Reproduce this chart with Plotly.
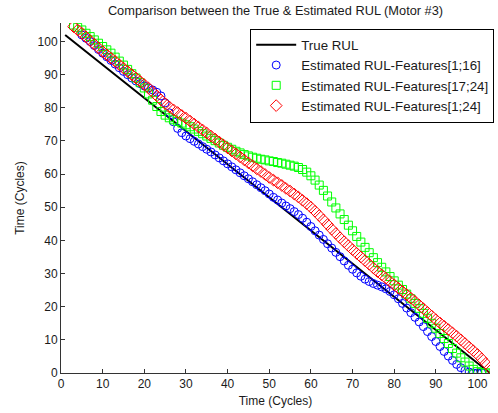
import plotly.graph_objects as go

# True RUL (cycles 1..103)
true_cycles = list(range(1, 104))
true_rul = [102, 101, 100, 99, 98, 97, 96, 95, 94, 93, 92, 91, 90, 89, 88, 87, 86, 85, 84, 83,
            82, 81, 80, 79, 78, 77, 76, 75, 74, 73, 72, 71, 70, 69, 68, 67, 66, 65, 64, 63,
            62, 61, 60, 59, 58, 57, 56, 55, 54, 53, 52, 51, 50, 49, 48, 47, 46, 45, 44, 43,
            42, 41, 40, 39, 38, 37, 36, 35, 34, 33, 32, 31, 30, 29, 28, 27, 26, 25, 24, 23,
            22, 21, 20, 19, 18, 17, 16, 15, 14, 13, 12, 11, 10, 9, 8, 7, 6, 5, 4, 3,
            2, 1, 0]

# Estimated RUL, features [1;16] (cycles 5..101)
blue_cycles = list(range(5, 102))
blue_rul = [102.0, 101.0, 100.0, 98.8, 97.6, 96.5, 95.4, 94.3, 93.2, 92.1,
            91.0, 90.0, 89.0, 88.1, 87.3, 86.6, 86.0, 85.4, 84.7, 83.6,
            81.5, 78.5, 75.8, 73.8, 72.5, 71.5, 70.7, 69.9, 69.1, 68.3,
            67.5, 66.7, 65.8, 64.9, 64.0, 63.1, 62.2, 61.3, 60.4, 59.5,
            58.6, 57.7, 56.8, 55.9, 55.0, 54.0, 53.0, 52.2, 51.3, 50.4,
            49.6, 48.7, 47.8, 46.7, 45.5, 44.2, 42.9, 41.6, 40.3, 39.0,
            37.7, 36.4, 35.1, 33.8, 32.5, 31.3, 30.2, 29.2, 28.3, 27.6,
            27.0, 26.5, 26.0, 25.4, 24.6, 23.6, 22.4, 21.0, 19.6, 18.2,
            16.8, 15.4, 14.0, 12.5, 11.0, 9.5, 8.0, 6.5, 5.1, 3.8,
            2.6, 1.6, 0.8, 0.3, 0.0, 0.0, 0.0]

# Estimated RUL, features [17;24] (cycles 3..103)
green_cycles = list(range(3, 104))
green_rul = [105.0, 104.3, 103.5, 102.5, 101.5, 100.5, 99.5, 98.5, 97.5, 96.5,
             95.3, 94.1, 92.9, 91.6, 90.3, 89.0, 87.6, 86.0, 84.2, 82.3,
             80.4, 78.9, 77.8, 77.0, 76.4, 75.9, 75.4, 74.9, 74.3, 73.6,
             72.9, 72.2, 71.5, 70.8, 70.1, 69.4, 68.7, 68.1, 67.5, 66.9,
             66.4, 65.9, 65.5, 65.1, 64.8, 64.5, 64.3, 64.0, 63.8, 63.5,
             63.3, 63.0, 62.7, 62.4, 62.0, 61.4, 60.6, 59.5, 58.2, 56.7,
             55.1, 53.4, 51.6, 49.8, 48.0, 46.3, 44.6, 42.9, 41.2, 39.5,
             37.9, 36.3, 34.8, 33.3, 31.9, 30.5, 29.1, 27.8, 26.5, 25.2,
             23.8, 22.4, 21.0, 19.5, 18.0, 16.5, 15.0, 13.5, 11.9, 10.4,
             8.9, 7.4, 6.0, 4.6, 3.3, 2.1, 1.1, 0.4, 0.1, 0.0, 0.0]

# Estimated RUL, features [1;24] (cycles 3..103)
red_cycles = list(range(3, 104))
red_rul = [104.5, 103.5, 102.5, 101.4, 100.3, 99.2, 98.1, 97.0, 96.0, 95.0,
           94.0, 93.0, 92.0, 91.0, 90.0, 89.0, 88.0, 87.0, 86.0, 84.8,
           83.6, 82.4, 81.3, 80.3, 79.4, 78.6, 77.7, 76.9, 76.0, 75.1,
           74.2, 73.3, 72.4, 71.5, 70.6, 69.7, 68.8, 67.9, 67.0, 66.1,
           65.2, 64.3, 63.4, 62.5, 61.6, 60.8, 59.9, 59.0, 58.2, 57.4,
           56.6, 55.7, 54.9, 54.0, 53.1, 52.1, 51.1, 50.0, 48.8, 47.5,
           46.2, 44.8, 43.4, 42.1, 40.8, 39.6, 38.4, 37.2, 36.1, 35.0,
           33.9, 32.8, 31.7, 30.6, 29.6, 28.6, 27.6, 26.6, 25.6, 24.6,
           23.6, 22.6, 21.6, 20.5, 19.4, 18.3, 17.2, 16.1, 15.1, 14.1,
           13.1, 12.1, 11.1, 10.0, 8.9, 7.8, 6.7, 5.6, 4.3, 2.9, 1.6]

tick_vals = [0, 10, 20, 30, 40, 50, 60, 70, 80, 90, 100]

FONT = "Liberation Sans, Arial, sans-serif"

fig = go.Figure()
fig.add_trace(go.Scatter(x=true_cycles, y=true_rul, mode="lines", name="True RUL",
                         line=dict(color="black", width=2)))
fig.add_trace(go.Scatter(x=blue_cycles, y=blue_rul, mode="markers",
                         name="Estimated RUL-Features[1;16]",
                         marker=dict(symbol="circle-open", size=8, color="#0000FF",
                                     line=dict(width=1))))
fig.add_trace(go.Scatter(x=green_cycles, y=green_rul, mode="markers",
                         name="Estimated RUL-Features[17;24]",
                         marker=dict(symbol="square-open", size=8, color="#00FF00",
                                     line=dict(width=1))))
fig.add_trace(go.Scatter(x=red_cycles, y=red_rul, mode="markers",
                         name="Estimated RUL-Features[1;24]",
                         marker=dict(symbol="diamond-open", size=9, color="#FF0000",
                                     line=dict(width=1))))

fig.update_layout(
    width=498, height=413,
    margin=dict(l=61, r=4, t=23, b=40),
    paper_bgcolor="white", plot_bgcolor="white",
    font=dict(family=FONT, size=12, color="#1a1a1a"),
    title=dict(text="Comparison between the True & Estimated RUL (Motor #3)",
               x=0.5, xref="paper", xanchor="center", y=0.975, yanchor="middle",
               font=dict(size=12.8, family=FONT, color="#1a1a1a")),
    showlegend=True,
    legend=dict(x=0.441, y=0.984, xanchor="left", yanchor="top",
                bgcolor="white", bordercolor="black", borderwidth=1,
                font=dict(size=13.3, family=FONT, color="#1a1a1a"),
                tracegroupgap=0, itemwidth=40),
)
fig.update_xaxes(range=[0, 103], tickvals=tick_vals, ticks="inside", ticklen=4,
                 tickcolor="#333", showline=True, linecolor="#333", linewidth=1,
                 showgrid=False, zeroline=False, mirror=False,
                 title=dict(text="Time (Cycles)", standoff=6, font=dict(size=12)),
                 tickfont=dict(size=12))
fig.update_yaxes(range=[0, 105.6], tickvals=tick_vals, ticks="inside", ticklen=4,
                 tickcolor="#333", showline=True, linecolor="#333", linewidth=1,
                 showgrid=False, zeroline=False, mirror=False,
                 title=dict(text="Time (Cycles)", standoff=10, font=dict(size=12)),
                 tickfont=dict(size=12))

fig.write_html("out.html")
